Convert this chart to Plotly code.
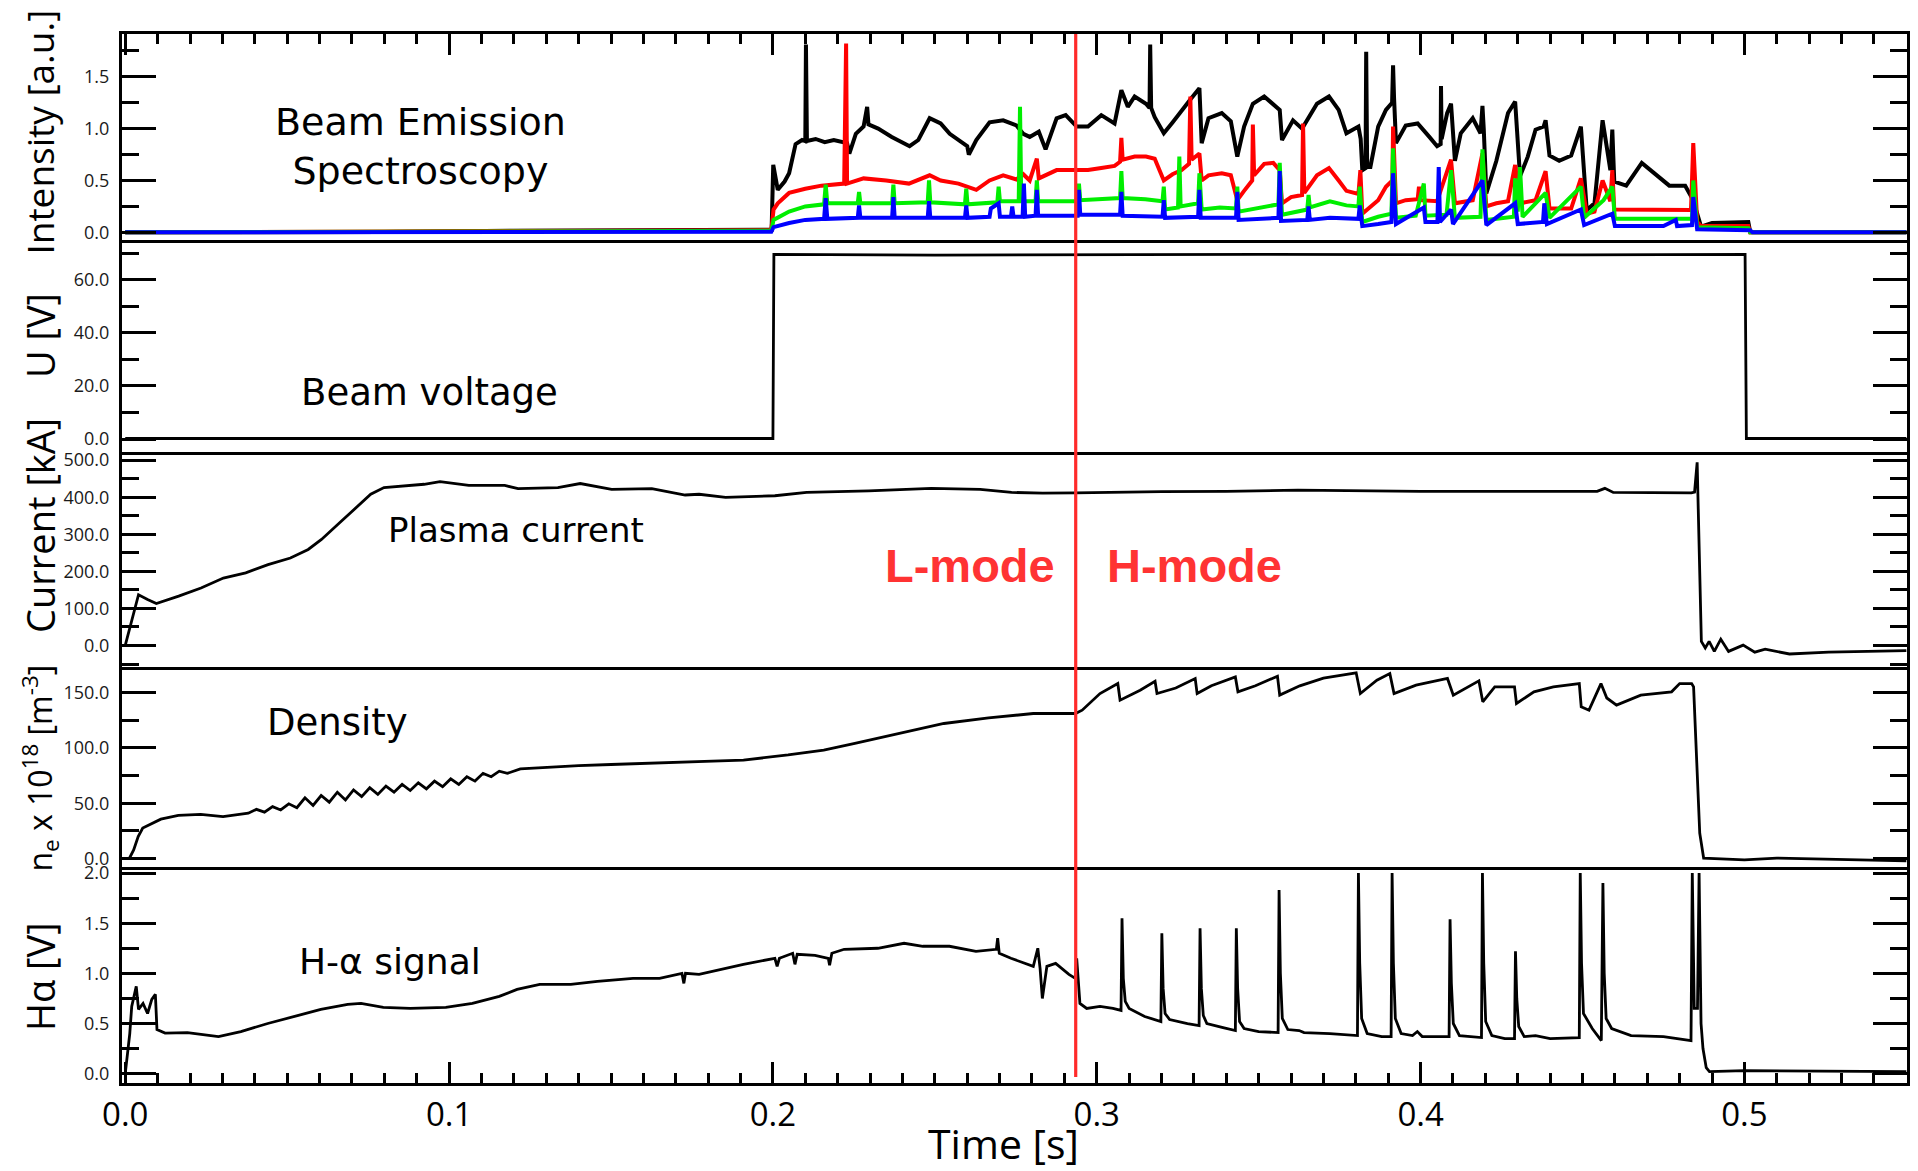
import plotly.graph_objects as go
from plotly.subplots import make_subplots

# ---------------- data ----------------
# Beam Emission Spectroscopy channels: (time [s], intensity [a.u.])
bes_black = [
    (0.0, 0.0), (0.08, 0.003), (0.12, 0.015), (0.17, 0.02), (0.1996, 0.025),
    (0.2001, 0.65), (0.2015, 0.41), (0.2036, 0.49), (0.2050, 0.57), (0.2070, 0.85), (0.2090, 0.89),
    (0.2100, 0.88), (0.2102, 1.81), (0.2105, 0.88), (0.2132, 0.90), (0.2160, 0.87), (0.2188, 0.89),
    (0.2229, 0.86), (0.2236, 0.76), (0.2256, 0.95), (0.2280, 1.02), (0.2291, 1.21), (0.2295, 1.04),
    (0.2325, 1.00), (0.2367, 0.92), (0.2422, 0.83), (0.2449, 0.89), (0.2484, 1.10), (0.2518, 1.05),
    (0.2546, 0.95), (0.2573, 0.89), (0.2600, 0.83), (0.2605, 0.75), (0.2628, 0.89), (0.2669, 1.06),
    (0.2711, 1.08), (0.2752, 1.03), (0.2773, 0.95), (0.2793, 0.92), (0.2821, 0.97), (0.2842, 0.80),
    (0.2876, 1.10), (0.2904, 1.13), (0.2938, 1.02), (0.2973, 1.02), (0.3014, 1.13), (0.3055, 1.05),
    (0.3076, 1.37), (0.3096, 1.21), (0.3117, 1.31), (0.3152, 1.24), (0.3163, 1.20), (0.3165, 1.81),
    (0.3168, 1.20), (0.3179, 1.11), (0.3207, 0.955), (0.3234, 1.06), (0.3262, 1.18), (0.3289, 1.28),
    (0.3317, 1.39), (0.3324, 0.86), (0.3345, 1.10), (0.3386, 1.15), (0.3414, 1.07), (0.3434, 0.73),
    (0.3455, 1.02), (0.3482, 1.24), (0.3517, 1.31), (0.3565, 1.18), (0.3572, 0.89), (0.3606, 1.08),
    (0.3634, 1.00), (0.3680, 1.24), (0.3717, 1.31), (0.3747, 1.18), (0.3771, 0.955), (0.3808, 1.02),
    (0.3815, 0.90), (0.3820, 0.60), (0.3830, 0.62), (0.3832, 1.74), (0.3835, 0.63), (0.3845, 0.63),
    (0.3869, 1.02), (0.3893, 1.18), (0.3912, 1.25), (0.3915, 1.61), (0.3918, 1.30), (0.3924, 0.86),
    (0.3954, 1.03), (0.3991, 1.05), (0.4027, 0.92), (0.4051, 0.83), (0.4062, 0.85), (0.4063, 1.41),
    (0.4065, 0.90), (0.4082, 1.15), (0.4094, 1.24), (0.4106, 0.69), (0.4124, 0.955), (0.4161, 1.10),
    (0.4185, 0.955), (0.4191, 1.22), (0.4195, 1.00), (0.4203, 0.376), (0.4234, 0.69), (0.4270, 1.15),
    (0.4292, 1.26), (0.4307, 0.54), (0.4331, 0.73), (0.4355, 0.99), (0.4380, 1.02), (0.4386, 1.08),
    (0.4398, 0.74), (0.4428, 0.69), (0.4465, 0.74), (0.4495, 1.02), (0.4513, 0.215), (0.4537, 0.28),
    (0.4562, 1.08), (0.4586, 0.60), (0.4592, 0.99), (0.4598, 0.49), (0.4635, 0.45), (0.4683, 0.67),
    (0.4720, 0.57), (0.4768, 0.45), (0.4817, 0.45), (0.4842, 0.31), (0.4854, 0.18), (0.4866, 0.055),
    (0.4900, 0.09), (0.4963, 0.10), (0.5012, 0.10), (0.5018, 0.0), (0.55, 0.0)]

bes_red = [
    (0.0, 0.0), (0.10, 0.005), (0.15, 0.015), (0.1995, 0.02), (0.2002, 0.22), (0.2015, 0.28),
    (0.2050, 0.38), (0.2100, 0.42), (0.2150, 0.45), (0.2220, 0.47), (0.2226, 1.82), (0.2229, 0.47),
    (0.2280, 0.52), (0.2350, 0.50), (0.2420, 0.47), (0.2484, 0.55), (0.2518, 0.50), (0.2573, 0.47),
    (0.2628, 0.41), (0.2669, 0.50), (0.2711, 0.55), (0.2752, 0.51), (0.2773, 0.56), (0.2793, 0.50),
    (0.2815, 0.71), (0.2821, 0.52), (0.2876, 0.60), (0.2904, 0.60), (0.2938, 0.60), (0.2973, 0.60),
    (0.3014, 0.62), (0.3055, 0.64), (0.3072, 0.68), (0.3076, 0.91), (0.3080, 0.70), (0.3117, 0.73),
    (0.3152, 0.73), (0.3179, 0.71), (0.3207, 0.50), (0.3234, 0.56), (0.3262, 0.60), (0.3285, 0.66),
    (0.3289, 1.31), (0.3293, 0.70), (0.3317, 0.76), (0.3324, 0.50), (0.3345, 0.55), (0.3386, 0.57),
    (0.3414, 0.55), (0.3434, 0.31), (0.3455, 0.40), (0.3480, 0.50), (0.3482, 1.04), (0.3486, 0.55),
    (0.3517, 0.66), (0.3545, 0.67), (0.3565, 0.60), (0.3572, 0.28), (0.3600, 0.34), (0.3634, 0.36),
    (0.3637, 1.05), (0.3641, 0.38), (0.3680, 0.55), (0.3717, 0.62), (0.3747, 0.50), (0.3771, 0.40),
    (0.3808, 0.37), (0.3814, 0.60), (0.3820, 0.18), (0.3869, 0.31), (0.3893, 0.44), (0.3913, 0.50),
    (0.3915, 1.02), (0.3924, 0.28), (0.3954, 0.31), (0.3991, 0.32), (0.3995, 0.44), (0.4000, 0.31),
    (0.4051, 0.30), (0.4094, 0.70), (0.4106, 0.28), (0.4161, 0.31), (0.4191, 0.76), (0.4203, 0.25),
    (0.4234, 0.28), (0.4270, 0.30), (0.4292, 0.65), (0.4307, 0.28), (0.4355, 0.31), (0.4386, 0.59),
    (0.4398, 0.23), (0.4465, 0.23), (0.4495, 0.52), (0.4513, 0.18), (0.4537, 0.20), (0.4562, 0.50),
    (0.4586, 0.30), (0.4592, 0.60), (0.4598, 0.22), (0.4683, 0.22), (0.4768, 0.215), (0.4835, 0.215),
    (0.4842, 0.86), (0.4854, 0.10), (0.4866, 0.06), (0.5012, 0.06), (0.5018, 0.0), (0.55, 0.0)]

bes_green = [
    (0.0, 0.0), (0.15, 0.01), (0.1995, 0.015), (0.2002, 0.12), (0.2050, 0.20), (0.2100, 0.25),
    (0.2158, 0.27), (0.2163, 0.46), (0.2168, 0.28), (0.2262, 0.28), (0.2266, 0.39), (0.2270, 0.28),
    (0.2368, 0.28), (0.2372, 0.46), (0.2376, 0.28), (0.2478, 0.29), (0.2482, 0.50), (0.2486, 0.29),
    (0.2593, 0.27), (0.2597, 0.42), (0.2601, 0.27), (0.2693, 0.29), (0.2697, 0.44), (0.2701, 0.30),
    (0.2759, 0.30), (0.2763, 1.21), (0.2767, 0.30), (0.2811, 0.30), (0.2815, 0.50), (0.2819, 0.30),
    (0.2941, 0.30), (0.2945, 0.47), (0.2949, 0.31), (0.3072, 0.33), (0.3076, 0.59), (0.3080, 0.33),
    (0.3150, 0.32), (0.3203, 0.30), (0.3207, 0.44), (0.3211, 0.22), (0.3251, 0.24), (0.3255, 0.73),
    (0.3259, 0.25), (0.3313, 0.28), (0.3317, 0.57), (0.3324, 0.22), (0.3380, 0.24), (0.3430, 0.23),
    (0.3434, 0.44), (0.3438, 0.20), (0.3500, 0.24), (0.3561, 0.27), (0.3565, 0.67), (0.3572, 0.17),
    (0.3650, 0.22), (0.3654, 0.36), (0.3658, 0.24), (0.3720, 0.30), (0.3771, 0.26), (0.3808, 0.25),
    (0.3812, 0.44), (0.3820, 0.10), (0.3869, 0.15), (0.3910, 0.18), (0.3915, 0.81), (0.3924, 0.14),
    (0.3985, 0.16), (0.4010, 0.47), (0.4015, 0.16), (0.4080, 0.17), (0.4094, 0.60), (0.4106, 0.14),
    (0.4185, 0.15), (0.4191, 0.80), (0.4203, 0.12), (0.4288, 0.15), (0.4292, 0.52), (0.4300, 0.20),
    (0.4307, 0.63), (0.4315, 0.15), (0.4386, 0.38), (0.4398, 0.14), (0.4495, 0.44), (0.4505, 0.14),
    (0.4565, 0.31), (0.4592, 0.44), (0.4600, 0.13), (0.4700, 0.13), (0.4800, 0.13), (0.4838, 0.13),
    (0.4842, 0.50), (0.4854, 0.05), (0.5012, 0.04), (0.5018, 0.0), (0.55, 0.0)]

bes_blue = [
    (0.0, 0.0), (0.1995, 0.005), (0.2002, 0.05), (0.2050, 0.09), (0.2100, 0.12), (0.2158, 0.13),
    (0.2163, 0.33), (0.2168, 0.13), (0.2262, 0.14), (0.2266, 0.26), (0.2270, 0.14), (0.2368, 0.14),
    (0.2372, 0.34), (0.2376, 0.14), (0.2478, 0.14), (0.2482, 0.30), (0.2486, 0.14), (0.2593, 0.14),
    (0.2597, 0.26), (0.2601, 0.14), (0.2669, 0.15), (0.2673, 0.23), (0.2697, 0.28), (0.2701, 0.15),
    (0.2735, 0.15), (0.2739, 0.25), (0.2743, 0.15), (0.2771, 0.15), (0.2775, 0.47), (0.2779, 0.15),
    (0.2811, 0.16), (0.2815, 0.41), (0.2819, 0.16), (0.2941, 0.16), (0.2945, 0.41), (0.2949, 0.17),
    (0.3072, 0.17), (0.3076, 0.39), (0.3080, 0.16), (0.3203, 0.15), (0.3207, 0.31), (0.3211, 0.14),
    (0.3313, 0.15), (0.3317, 0.41), (0.3321, 0.14), (0.3430, 0.14), (0.3434, 0.39), (0.3438, 0.12),
    (0.3561, 0.14), (0.3565, 0.59), (0.3569, 0.11), (0.3650, 0.12), (0.3654, 0.25), (0.3658, 0.12),
    (0.3720, 0.14), (0.3808, 0.13), (0.3812, 0.26), (0.3820, 0.06), (0.3869, 0.08), (0.3910, 0.10),
    (0.3915, 0.57), (0.3924, 0.08), (0.4010, 0.24), (0.4015, 0.10), (0.4052, 0.10), (0.4056, 0.63),
    (0.4060, 0.10), (0.4094, 0.22), (0.4100, 0.08), (0.4191, 0.50), (0.4203, 0.07), (0.4292, 0.28),
    (0.4300, 0.08), (0.4378, 0.10), (0.4382, 0.28), (0.4390, 0.08), (0.4495, 0.22), (0.4505, 0.07),
    (0.4592, 0.18), (0.4600, 0.06), (0.4750, 0.06), (0.4788, 0.12), (0.4792, 0.06), (0.4838, 0.07),
    (0.4842, 0.34), (0.4854, 0.03), (0.5018, 0.02), (0.5025, 0.0), (0.55, 0.0)]

# Beam voltage [V]
beam_voltage = [(0.0, 0.2), (0.2000, 0.2), (0.2003, 69.6), (0.25, 69.3), (0.35, 69.6), (0.45, 69.4),
                (0.5002, 69.6), (0.5006, 0.2), (0.55, 0.2)]

# Plasma current [kA]
plasma_current = [
    (0.0, 0), (0.0027, 87), (0.0041, 137), (0.0069, 124), (0.0096, 113), (0.0165, 133), (0.0234, 155),
    (0.0303, 182), (0.0372, 196), (0.0441, 218), (0.0510, 236), (0.0565, 259), (0.0606, 286),
    (0.0662, 331), (0.0717, 376), (0.0758, 408), (0.0799, 426), (0.0855, 430), (0.0923, 435),
    (0.0972, 442), (0.1061, 432), (0.1172, 432), (0.1213, 423), (0.1336, 426), (0.1405, 437),
    (0.1502, 421), (0.1626, 423), (0.1729, 406), (0.1772, 408), (0.1854, 399.5), (0.2006, 404),
    (0.2104, 413), (0.2296, 417), (0.2489, 424), (0.2640, 421), (0.2737, 413), (0.2833, 411),
    (0.2934, 412), (0.3010, 413), (0.3200, 415), (0.3400, 416), (0.3621, 419), (0.4000, 416),
    (0.4400, 415), (0.4545, 416), (0.4569, 424), (0.4595, 413), (0.4836, 412), (0.4846, 414),
    (0.4854, 494), (0.4861, 224), (0.4867, 11), (0.4879, -7), (0.4891, 11), (0.4907, -16),
    (0.4927, 17), (0.4951, -16), (0.4996, 1), (0.5032, -18), (0.5064, -10), (0.5139, -23),
    (0.5260, -18), (0.55, -14)]

# Line-averaged density [1e18 m^-3]
density = [
    (0.0, 0.0), (0.0013, 0.5), (0.0026, 8), (0.0040, 20), (0.0054, 27.6), (0.0082, 32), (0.0110, 35.7),
    (0.0164, 39), (0.0233, 40), (0.0302, 38), (0.0357, 40.5), (0.0380, 41), (0.0405, 44.5),
    (0.0430, 42), (0.0455, 47), (0.0480, 44), (0.0505, 49.5), (0.0530, 46), (0.0555, 55), (0.0580, 48),
    (0.0605, 57), (0.0630, 51), (0.0655, 60), (0.0680, 53), (0.0705, 62), (0.0730, 56), (0.0755, 64),
    (0.0780, 58), (0.0805, 65.5), (0.0830, 60), (0.0855, 67), (0.0880, 61.5), (0.0905, 68.5),
    (0.0930, 63), (0.0955, 70), (0.0980, 65), (0.1005, 72), (0.1030, 67), (0.1055, 74), (0.1080, 70),
    (0.1105, 77), (0.1130, 74), (0.1155, 79), (0.1180, 77), (0.1220, 81), (0.1300, 82.5),
    (0.1400, 84), (0.1500, 85), (0.1600, 86), (0.1700, 87), (0.1772, 87.6), (0.1909, 89),
    (0.2047, 93.6), (0.2157, 98), (0.2253, 104), (0.2391, 113), (0.2528, 122), (0.2666, 127),
    (0.2804, 131), (0.2934, 131), (0.2955, 134), (0.3010, 149), (0.3065, 158), (0.3072, 143),
    (0.3134, 152), (0.3180, 160), (0.3186, 149), (0.3244, 154), (0.3304, 162.6), (0.3310, 149),
    (0.3354, 156), (0.3428, 164), (0.3436, 150.6), (0.3490, 156), (0.3558, 164.7), (0.3565, 147.6),
    (0.3627, 156), (0.3700, 163), (0.3801, 167.7), (0.3814, 149), (0.3865, 161), (0.3905, 167),
    (0.3918, 149), (0.3986, 156.6), (0.4083, 162.6), (0.4101, 147.6), (0.4180, 160.5),
    (0.4192, 141.6), (0.4229, 155), (0.4290, 155), (0.4296, 140), (0.4350, 150.6), (0.4410, 155),
    (0.4490, 158), (0.4496, 137), (0.4520, 134), (0.4557, 158), (0.4575, 145), (0.4605, 138.6),
    (0.4680, 147.6), (0.4775, 150.6), (0.4800, 158), (0.4837, 158), (0.4843, 155), (0.4862, 23),
    (0.4874, 0.6), (0.5000, -1), (0.5100, 0.5), (0.5300, -1), (0.55, -2)]

# H-alpha signal [V]
h_alpha = [
    (0.0, 0.0), (0.0014, 0.40), (0.0020, 0.67), (0.0034, 0.87), (0.0041, 0.64), (0.0055, 0.70),
    (0.0069, 0.60), (0.0082, 0.74), (0.0093, 0.79), (0.0098, 0.44), (0.0123, 0.405), (0.0192, 0.41),
    (0.0288, 0.37), (0.0357, 0.42), (0.0440, 0.50), (0.0522, 0.57), (0.0604, 0.64), (0.0687, 0.69),
    (0.0728, 0.70), (0.0797, 0.66), (0.0880, 0.65), (0.0990, 0.66), (0.1072, 0.70), (0.1155, 0.77),
    (0.1210, 0.84), (0.1280, 0.89), (0.1376, 0.89), (0.1458, 0.92), (0.1568, 0.95), (0.1650, 0.95),
    (0.1719, 1.00), (0.1725, 0.90), (0.1730, 1.00), (0.1772, 0.99), (0.1840, 1.04), (0.1909, 1.09),
    (0.2006, 1.15), (0.2013, 1.07), (0.2020, 1.15), (0.2061, 1.20), (0.2068, 1.09), (0.2075, 1.19),
    (0.2130, 1.18), (0.2171, 1.15), (0.2175, 1.08), (0.2182, 1.20), (0.2220, 1.24), (0.2324, 1.25),
    (0.2405, 1.30), (0.2463, 1.27), (0.2545, 1.27), (0.2627, 1.22), (0.2690, 1.24), (0.2694, 1.35),
    (0.2699, 1.20), (0.2735, 1.15), (0.2804, 1.07), (0.2818, 1.25), (0.2825, 1.05), (0.2832, 0.75),
    (0.2846, 1.07), (0.2873, 1.10), (0.2914, 0.99), (0.2934, 0.95), (0.2938, 1.15), (0.2948, 0.70),
    (0.2969, 0.65), (0.3010, 0.67), (0.3050, 0.65), (0.3075, 0.63), (0.3078, 1.55), (0.3082, 0.95),
    (0.3088, 0.72), (0.3100, 0.65), (0.3148, 0.57), (0.3198, 0.52), (0.3201, 1.40), (0.3205, 0.85),
    (0.3211, 0.60), (0.3225, 0.54), (0.3280, 0.50), (0.3316, 0.48), (0.3319, 1.45), (0.3323, 0.85),
    (0.3329, 0.58), (0.3340, 0.50), (0.3390, 0.46), (0.3428, 0.43), (0.3431, 1.45), (0.3435, 0.85),
    (0.3441, 0.52), (0.3455, 0.45), (0.3500, 0.42), (0.3560, 0.41), (0.3563, 1.83), (0.3567, 1.00),
    (0.3573, 0.55), (0.3590, 0.44), (0.3625, 0.43), (0.3640, 0.41), (0.3720, 0.40), (0.3805, 0.38),
    (0.3808, 2.00), (0.3812, 1.10), (0.3818, 0.55), (0.3835, 0.40), (0.3880, 0.37), (0.3909, 0.37),
    (0.3912, 2.00), (0.3916, 1.10), (0.3922, 0.55), (0.3940, 0.40), (0.3975, 0.38), (0.3990, 0.42),
    (0.4005, 0.37), (0.4088, 0.37), (0.4091, 1.54), (0.4095, 0.90), (0.4101, 0.50), (0.4120, 0.38),
    (0.4188, 0.36), (0.4191, 2.00), (0.4195, 1.10), (0.4201, 0.52), (0.4220, 0.38), (0.4260, 0.35),
    (0.4290, 0.35), (0.4293, 1.22), (0.4297, 0.75), (0.4303, 0.47), (0.4320, 0.37), (0.4355, 0.38),
    (0.4400, 0.35), (0.4490, 0.36), (0.4493, 2.00), (0.4497, 1.10), (0.4503, 0.60), (0.4530, 0.45),
    (0.4558, 0.33), (0.4563, 1.90), (0.4567, 1.00), (0.4573, 0.55), (0.4590, 0.45), (0.4650, 0.38),
    (0.4750, 0.37), (0.4835, 0.33), (0.4839, 2.00), (0.4845, 0.65), (0.4855, 0.65), (0.4860, 2.00),
    (0.4866, 0.50), (0.4872, 0.25), (0.4882, 0.06), (0.4892, 0.02), (0.5000, 0.03), (0.55, 0.02)]

lh_time = 0.2935  # L-H transition [s]

panel_labels = ["Beam Emission<br>Spectroscopy", "Beam voltage", "Plasma current", "Density", "H-α signal"]
y_titles = ["Intensity [a.u.]", "U [V]", "Current [kA]",
            "n<sub>e</sub> x 10<sup>18</sup> [m<sup>-3</sup>]", "Hα [V]"]

# ---------------- layout parameters ----------------
x_range = [-0.001, 0.5502]
y_ranges = [[-0.074, 1.912], [-4.9, 75], [-58, 522], [-7.5, 173], [-0.093, 2.06]]
y_dticks = [(0.5, 0.25), (20, 10), (100, 50), (50, 25), (0.5, 0.25)]
domains = [[0.8036, 1.0], [0.6015, 0.8036], [0.3966, 0.6015], [0.2059, 0.3966], [0.0, 0.2059]]

fig = make_subplots(rows=5, cols=1, shared_xaxes=True, vertical_spacing=0)

def xy(pairs):
    return [p[0] for p in pairs], [p[1] for p in pairs]

for series, color in [(bes_black, "black"), (bes_red, "#ff0000"), (bes_green, "#00ee00"), (bes_blue, "#0000ff")]:
    t, v = xy(series)
    fig.add_trace(go.Scatter(x=t, y=v, mode="lines", line=dict(color=color, width=4)), row=1, col=1)

for i, series in enumerate([beam_voltage, plasma_current, density, h_alpha]):
    t, v = xy(series)
    fig.add_trace(go.Scatter(x=t, y=v, mode="lines", line=dict(color="black", width=2.8)), row=i + 2, col=1)

tick_font = dict(family="Open Sans", size=18, color="#1a1a1a")

for i in range(5):
    n = "" if i == 0 else str(i + 1)
    major, minor = y_dticks[i]
    fig.layout["yaxis" + n].update(
        domain=domains[i], range=y_ranges[i], showgrid=False, zeroline=False,
        showline=True, linewidth=3, linecolor="black", mirror="allticks",
        ticks="inside", ticklen=34, tickwidth=2.6, tickcolor="black",
        tick0=0, dtick=major, tickformat=".1f", tickfont=tick_font, ticklabelstandoff=6,
        minor=dict(ticks="inside", ticklen=17, tickwidth=2.6, tickcolor="black", tick0=0, dtick=minor),
    )
    xa = dict(range=x_range, showgrid=False, zeroline=False, showline=True, linewidth=3,
              linecolor="black", mirror=False)
    if i == 0:
        # ticks along the top edge, plain line along the bottom edge
        xa.update(side="top", mirror=True, ticks="inside", ticklen=21, tickwidth=2.6, tickcolor="black",
                  tick0=0, dtick=0.1, showticklabels=False,
                  minor=dict(ticks="inside", ticklen=10, tickwidth=2.6, tickcolor="black", tick0=0, dtick=0.01))
    elif i == 4:
        xa.update(ticks="inside", ticklen=21, tickwidth=2.6, tickcolor="black",
                  tick0=0, dtick=0.1, tickformat=".1f", showticklabels=True,
                  tickfont=dict(family="Open Sans", size=33, color="black"), ticklabelstandoff=0,
                  minor=dict(ticks="inside", ticklen=10, tickwidth=2.6, tickcolor="black", tick0=0, dtick=0.01))
    else:
        xa.update(ticks="", showticklabels=False)
    fig.layout["xaxis" + n].update(**xa)

# L-H transition line
fig.add_shape(type="line", xref="x5", yref="paper", x0=lh_time, x1=lh_time, y0=0.0057, y1=1.0,
              line=dict(color="#ff2a2a", width=3.2), layer="above")

annotations = []
# panel labels
label_pos = [(0.1675, 0.893, 38), (0.1723, 0.6587, 37), (0.2209, 0.5272, 34), (0.1208, 0.3432, 37), (0.1499, 0.1163, 36)]
for text, (px, py, fs) in zip(panel_labels, label_pos):
    annotations.append(dict(text=text, x=px, y=py, xref="paper", yref="paper", showarrow=False,
                            xanchor="center", yanchor="middle",
                            font=dict(family="DejaVu Sans", size=fs, color="black")))
# y axis titles
title_y = [0.906, 0.712, 0.531, 0.2998, 0.101]
title_size = [37, 38, 38, 32, 38]
for text, py, fs in zip(y_titles, title_y, title_size):
    annotations.append(dict(text=text, x=0, y=py, xref="paper", yref="paper", showarrow=False,
                            xanchor="center", yanchor="middle", textangle=-90, xshift=-82,
                            font=dict(family="Open Sans", size=fs, color="black")))
# x title
annotations.append(dict(text="Time [s]", x=0.494, y=-0.0575, xref="paper", yref="paper", showarrow=False,
                        xanchor="center", yanchor="middle", borderpad=0,
                        font=dict(family="Open Sans", size=41, color="black")))
# mode labels
for text, px in [("L-mode", 0.4748), ("H-mode", 0.601)]:
    annotations.append(dict(text="<b>" + text + "</b>", x=px, y=0.4938, xref="paper", yref="paper",
                            showarrow=False, xanchor="center", yanchor="middle",
                            font=dict(family="Liberation Sans", size=47, color="#ff3333")))

fig.update_layout(
    width=1918, height=1171, margin=dict(l=122, r=8, t=34, b=88),
    plot_bgcolor="white", paper_bgcolor="white", showlegend=False,
    annotations=annotations,
)

fig.write_html(
    "out.html",
    config={"displayModeBar": False},
    post_script="document.body.style.margin='0';document.body.style.overflow='hidden';",
)
